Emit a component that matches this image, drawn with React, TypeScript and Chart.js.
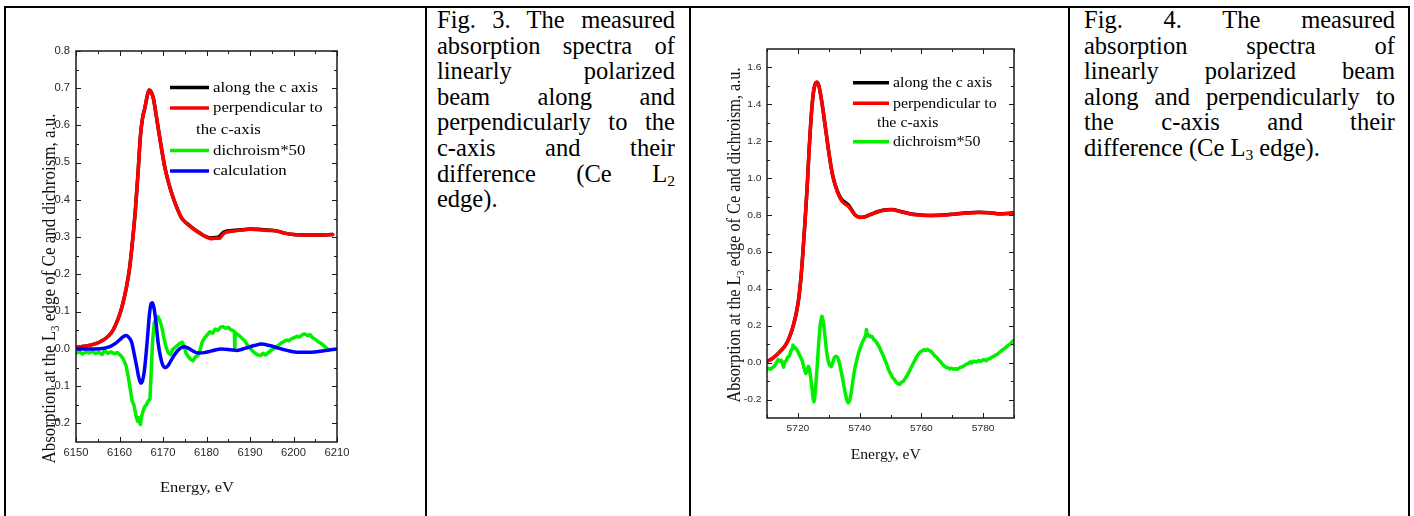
import React, { useEffect, useRef } from 'react';
import { Chart, registerables } from 'chart.js';

Chart.register(...registerables);

const SERIF = '"Liberation Serif", "Times New Roman", Times, serif';
const SANS = '"Liberation Sans", Arial, Helvetica, sans-serif';

// ---------------- Fig. 3 (Ce L2 edge) data ----------------
const E3_ABS = [6150, 6152, 6154, 6156, 6157.5, 6158.5, 6159.5, 6160.5, 6161.5, 6162.3, 6163, 6163.7, 6164.3, 6164.8, 6165.3, 6165.8, 6166.3, 6166.8, 6167.3, 6167.8, 6168.4, 6169, 6169.7, 6170.4, 6171.2, 6172, 6173, 6174.3, 6175.5, 6177, 6178.5, 6180, 6181, 6182, 6183, 6183.6, 6184.2, 6186, 6188, 6190, 6192, 6194, 6196, 6198, 6200, 6203, 6206, 6209];
const ALONG3 = [0.004, 0.007, 0.012, 0.022, 0.035, 0.05, 0.075, 0.11, 0.16, 0.215, 0.29, 0.38, 0.48, 0.57, 0.62, 0.645, 0.675, 0.695, 0.69, 0.672, 0.63, 0.585, 0.535, 0.489, 0.45, 0.418, 0.385, 0.351, 0.337, 0.323, 0.311, 0.301, 0.298, 0.299, 0.302, 0.31, 0.315, 0.318, 0.32, 0.322, 0.321, 0.319, 0.317, 0.311, 0.307, 0.306, 0.306, 0.307];
const PERP3 = [0.004, 0.007, 0.012, 0.022, 0.035, 0.05, 0.075, 0.11, 0.16, 0.215, 0.29, 0.38, 0.48, 0.57, 0.62, 0.645, 0.675, 0.695, 0.69, 0.672, 0.63, 0.585, 0.535, 0.489, 0.45, 0.418, 0.385, 0.351, 0.336, 0.322, 0.31, 0.3, 0.296, 0.297, 0.297, 0.305, 0.312, 0.316, 0.319, 0.321, 0.32, 0.318, 0.317, 0.311, 0.307, 0.306, 0.306, 0.307];

const E3_DICH = [6150, 6150.8, 6151.5, 6152.3, 6153, 6153.8, 6154.5, 6155.2, 6156, 6156.6, 6157.3, 6158, 6158.8, 6159.5, 6160.3, 6160.9, 6161.5, 6162, 6162.5, 6162.9, 6163.3, 6163.6, 6163.9, 6164.2, 6164.5, 6164.8, 6165.1, 6165.4, 6165.8, 6166.2, 6166.6, 6167, 6167.3, 6167.6, 6168, 6168.4, 6168.8, 6169.2, 6169.7, 6170.2, 6170.7, 6171.2, 6171.7, 6172.2, 6172.8, 6173.4, 6173.9, 6174.4, 6174.8, 6175.3, 6175.8, 6176.3, 6176.9, 6177.4, 6178, 6178.5, 6179, 6179.6, 6180.2, 6180.8, 6181.4, 6182, 6182.6, 6183.2, 6183.8, 6184.4, 6185, 6185.5, 6186, 6186.4, 6186.5, 6186.6, 6187, 6187.6, 6188.2, 6188.8, 6189.4, 6190, 6190.6, 6191.2, 6191.8, 6192.4, 6193, 6193.6, 6194.2, 6194.8, 6195.4, 6196, 6196.6, 6197.2, 6197.8, 6198.4, 6199, 6199.6, 6200.2, 6200.8, 6201.4, 6202, 6202.6, 6203.2, 6203.8, 6204.4, 6205, 6205.6, 6206.2, 6206.8, 6207.4, 6208];
const DICH3 = [-0.012, -0.007, -0.014, -0.008, -0.011, -0.006, -0.013, -0.009, -0.015, -0.004, -0.012, -0.008, -0.013, -0.01, -0.018, -0.028, -0.045, -0.074, -0.11, -0.14, -0.15, -0.168, -0.185, -0.195, -0.185, -0.203, -0.18, -0.168, -0.155, -0.15, -0.14, -0.135, -0.06, 0.02, 0.07, 0.08, 0.087, 0.078, 0.06, 0.03, 0.005, -0.01, -0.015, -0.002, 0.004, 0.01, 0.015, 0.018, 0.008, -0.012, -0.02, -0.028, -0.032, -0.022, -0.018, -0.004, 0.018, 0.03, 0.038, 0.046, 0.042, 0.053, 0.05, 0.058, 0.06, 0.055, 0.058, 0.052, 0.05, 0.046, 0.0, 0.044, 0.04, 0.035, 0.028, 0.022, 0.01, 0.002, -0.006, -0.012, -0.016, -0.018, -0.012, -0.016, -0.01, -0.004, 0.0, 0.006, 0.01, 0.016, 0.02, 0.024, 0.022, 0.028, 0.03, 0.034, 0.032, 0.038, 0.04, 0.036, 0.038, 0.03, 0.026, 0.02, 0.016, 0.01, 0.004, -0.002];

const E3_CALC = [6150, 6152, 6154.7, 6156.5, 6157.8, 6159, 6160, 6161, 6161.6, 6162.2, 6162.8, 6163.5, 6164, 6164.4, 6164.9, 6165.3, 6165.7, 6166.1, 6166.5, 6166.9, 6167.3, 6167.6, 6168, 6168.4, 6168.9, 6169.4, 6169.9, 6170.5, 6171.2, 6172, 6173, 6174, 6174.8, 6175.8, 6176.8, 6178, 6179.5, 6181, 6183.5, 6185.5, 6187, 6189, 6191, 6192.6, 6194.5, 6196.5, 6198.5, 6201, 6204, 6207, 6210];
const CALC3 = [0.0, 0.0, 0.0, 0.002, 0.006, 0.014, 0.024, 0.034, 0.036, 0.03, 0.018, -0.021, -0.05, -0.075, -0.092, -0.085, -0.06, -0.015, 0.04, 0.095, 0.122, 0.124, 0.105, 0.07, 0.015, -0.02, -0.042, -0.05, -0.044, -0.028, -0.01, 0.002, 0.006, 0.002, -0.005, -0.011, -0.01, -0.006, 0.0, -0.002, -0.004, 0.002, 0.009, 0.013, 0.009, 0.002, -0.004, -0.009, -0.009, -0.005, 0.0];

const X3_MAJOR = [6150, 6160, 6170, 6180, 6190, 6200, 6210];
const X3_MINOR = [6155, 6165, 6175, 6185, 6195, 6205];
const Y3_MAJOR = [-0.2, -0.1, 0.0, 0.1, 0.2, 0.3, 0.4, 0.5, 0.6, 0.7, 0.8];
const Y3_MINOR = [-0.15, -0.05, 0.05, 0.15, 0.25, 0.35, 0.45, 0.55, 0.65, 0.75];

// ---------------- Fig. 4 (Ce L3 edge) data ----------------
const E4_ABS = [5710, 5711.5, 5713, 5714.5, 5716, 5717.3, 5718.5, 5719.5, 5720.3, 5721, 5721.6, 5722.3, 5723, 5723.6, 5724.3, 5725, 5725.6, 5726.2, 5726.8, 5727.5, 5728.3, 5729.2, 5730.2, 5731.2, 5732.2, 5733.3, 5734.3, 5735.5, 5736.5, 5737.5, 5738.5, 5740, 5741.5, 5743.5, 5746, 5748.5, 5750.5, 5753, 5756, 5759, 5763, 5767, 5771, 5775, 5778.5, 5782, 5785.5, 5788, 5790];
const ALONG4 = [0.008, 0.02, 0.04, 0.065, 0.095, 0.14, 0.2, 0.27, 0.35, 0.46, 0.59, 0.76, 0.95, 1.14, 1.33, 1.46, 1.51, 1.52, 1.5, 1.44, 1.35, 1.24, 1.12, 1.02, 0.958, 0.91, 0.882, 0.866, 0.852, 0.826, 0.802, 0.788, 0.79, 0.803, 0.819, 0.829, 0.83, 0.821, 0.808, 0.801, 0.798, 0.8, 0.806, 0.812, 0.815, 0.813, 0.807, 0.809, 0.812];
const PERP4 = [0.008, 0.02, 0.04, 0.065, 0.095, 0.14, 0.2, 0.27, 0.35, 0.46, 0.59, 0.76, 0.95, 1.14, 1.33, 1.46, 1.51, 1.52, 1.5, 1.44, 1.35, 1.24, 1.12, 1.02, 0.955, 0.905, 0.875, 0.858, 0.845, 0.822, 0.8, 0.787, 0.789, 0.802, 0.818, 0.828, 0.829, 0.82, 0.807, 0.8, 0.797, 0.799, 0.805, 0.811, 0.814, 0.812, 0.806, 0.808, 0.811];

const E4_DICH = [5710, 5710.6, 5711.2, 5711.8, 5712.4, 5713, 5713.6, 5714.1, 5714.6, 5715.1, 5715.4, 5715.7, 5716.2, 5716.7, 5717.2, 5717.7, 5718.1, 5718.4, 5718.8, 5719.3, 5719.8, 5720.3, 5720.8, 5721.3, 5721.8, 5722.2, 5722.6, 5723, 5723.4, 5723.7, 5724.1, 5724.5, 5724.9, 5725.2, 5725.5, 5725.9, 5726.3, 5726.8, 5727.3, 5727.8, 5728.3, 5728.8, 5729.3, 5729.8, 5730.3, 5730.8, 5731.3, 5731.8, 5732.3, 5732.8, 5733.3, 5733.8, 5734.3, 5734.8, 5735.3, 5735.8, 5736.3, 5736.8, 5737.3, 5737.8, 5738.3, 5738.8, 5739.3, 5739.8, 5740.4, 5741, 5741.6, 5742, 5742.2, 5742.5, 5743, 5743.5, 5744, 5744.6, 5745.2, 5745.8, 5746.4, 5747, 5747.6, 5748.2, 5748.8, 5749.4, 5750, 5750.6, 5751.2, 5751.8, 5752.4, 5753, 5753.6, 5754.2, 5754.8, 5755.4, 5756, 5756.6, 5757.2, 5757.8, 5758.4, 5759, 5759.6, 5760.2, 5760.8, 5761.4, 5762, 5762.6, 5763.2, 5763.8, 5764.4, 5765, 5765.6, 5766.2, 5766.8, 5767.4, 5768, 5768.6, 5769.2, 5769.8, 5770.4, 5771, 5771.6, 5772.2, 5772.8, 5773.4, 5774, 5774.6, 5775.2, 5775.8, 5776.3, 5776.8, 5777.4, 5778, 5778.6, 5779.2, 5779.8, 5780.4, 5781, 5781.6, 5782.2, 5782.8, 5783.4, 5784, 5784.6, 5785.2, 5785.8, 5786.4, 5787, 5787.6, 5788.2, 5788.8, 5789.4, 5790];
const DICH4 = [-0.037, -0.03, -0.036, -0.026, -0.02, -0.002, 0.017, 0.008, 0.012, -0.01, -0.024, 0.004, 0.01, 0.03, 0.035, 0.06, 0.075, 0.095, 0.078, 0.08, 0.066, 0.05, 0.032, 0.015, -0.015, -0.04, -0.058, -0.04, -0.02, -0.035, -0.075, -0.13, -0.19, -0.212, -0.18, -0.1, -0.01, 0.12, 0.215, 0.252, 0.215, 0.14, 0.06, 0.01, -0.015, -0.022, 0.0, 0.028, 0.034, 0.03, 0.01, -0.03, -0.07, -0.115, -0.16, -0.2, -0.218, -0.205, -0.16, -0.1, -0.045, -0.005, 0.03, 0.06, 0.09, 0.115, 0.135, 0.15, 0.18, 0.145, 0.15, 0.14, 0.142, 0.125, 0.118, 0.1, 0.085, 0.06, 0.04, 0.015, -0.01, -0.04, -0.06, -0.078, -0.09, -0.105, -0.114, -0.118, -0.105, -0.1, -0.085, -0.07, -0.05, -0.03, -0.01, 0.01, 0.03, 0.045, 0.058, 0.063, 0.07, 0.066, 0.072, 0.065, 0.06, 0.048, 0.036, 0.028, 0.015, 0.005, -0.008, -0.018, -0.025, -0.028, -0.034, -0.03, -0.036, -0.032, -0.036, -0.03, -0.024, -0.022, -0.015, -0.008, -0.004, 0.004, -0.002, 0.008, 0.006, 0.004, 0.012, 0.006, 0.014, 0.016, 0.01, 0.02, 0.022, 0.03, 0.034, 0.04, 0.046, 0.054, 0.062, 0.07, 0.078, 0.086, 0.095, 0.1, 0.112, 0.122];

const X4_MAJOR = [5720, 5740, 5760, 5780];
const X4_MINOR = [5710, 5730, 5750, 5770, 5790];
const Y4_MAJOR = [-0.2, 0.0, 0.2, 0.4, 0.6, 0.8, 1.0, 1.2, 1.4, 1.6];
const Y4_MINOR = [-0.1, 0.1, 0.3, 0.5, 0.7, 0.9, 1.1, 1.3, 1.5];

// ---------------- captions ----------------
const CAPTION3 = ['Fig. 3. The measured', 'absorption spectra of', 'linearly polarized', 'beam along and', 'perpendicularly to the', 'c-axis and their', 'difference (Ce L|2', 'edge).'];
const CAPTION4 = ['Fig. 4. The measured', 'absorption spectra of', 'linearly polarized beam', 'along and perpendicularly to', 'the c-axis and their', 'difference (Ce L|3| edge).'];

const LABEL_ALONG = 'along the c axis';
const LABEL_PERP = 'perpendicular to\nthe c-axis';
const LABEL_DICH = 'dichroism*50';
const LABEL_CALC = 'calculation';
const X_TITLE = 'Energy, eV';

type Series = { label: string; xs: number[]; ys: number[]; color: string; order: number; smooth: boolean };

type Spec = {
  width: number; height: number;
  pad: { left: number; top: number; right: number; bottom: number };
  xMin: number; xMax: number; yMin: number; yMax: number;
  xMajor: number[]; xMinor: number[]; yMajor: number[]; yMinor: number[];
  tickFont: number; xLabelDy: number; yLabelDx: number;
  series: Series[];
  legend: { x0: number; x1: number; tx: number; contX: number; rows: number[]; font: number };
  yTitle: { x: number; y: number; size: number };
  xTitle: { x: number; y: number; size: number };
};

const SX = 1.12; // horizontal stretch of the source picture

function sText(ctx: CanvasRenderingContext2D, text: string, x: number, y: number, align: CanvasTextAlign) {
  ctx.save();
  ctx.translate(x, y);
  ctx.scale(SX, 1);
  ctx.textAlign = align;
  ctx.fillText(text, 0, 0);
  ctx.restore();
}

function drawYTitle(ctx: CanvasRenderingContext2D, cx: number, cy: number, size: number) {
  const main = `${size}px ${SERIF}`;
  const sub = `${Math.round(size * 0.62)}px ${SERIF}`;
  const parts: [string, string, number][] = [
    ['Absorption at the L', main, 0],
    ['3', sub, size * 0.32],
    [' edge of Ce and dichroism, a.u.', main, 0],
  ];
  ctx.save();
  ctx.translate(cx, cy);
  ctx.rotate(-Math.PI / 2);
  ctx.scale(1, SX);
  ctx.fillStyle = '#111';
  ctx.textBaseline = 'middle';
  ctx.textAlign = 'left';
  let total = 0;
  for (const [t, f] of parts) { ctx.font = f; total += ctx.measureText(t).width; }
  let x = -total / 2;
  for (const [t, f, dy] of parts) {
    ctx.font = f;
    ctx.fillText(t, x, dy);
    x += ctx.measureText(t).width;
  }
  ctx.restore();
}

function makeDecor(spec: Spec) {
  return {
    id: 'decor',
    afterDraw(chart: any) {
      const { ctx, chartArea: a } = chart;
      const xs = chart.scales.x;
      const ys = chart.scales.y;
      ctx.save();
      ctx.strokeStyle = '#1a1a1a';
      ctx.lineWidth = 1;
      ctx.beginPath();
      const tickX = (vals: number[], len: number) => {
        for (const v of vals) {
          const p = Math.round(xs.getPixelForValue(v)) + 0.5;
          ctx.moveTo(p, a.bottom); ctx.lineTo(p, a.bottom - len);
          ctx.moveTo(p, a.top); ctx.lineTo(p, a.top + len);
        }
      };
      const tickY = (vals: number[], len: number) => {
        for (const v of vals) {
          const p = Math.round(ys.getPixelForValue(v)) + 0.5;
          ctx.moveTo(a.left, p); ctx.lineTo(a.left + len, p);
          ctx.moveTo(a.right, p); ctx.lineTo(a.right - len, p);
        }
      };
      tickX(spec.xMajor, 5); tickX(spec.xMinor, 3);
      tickY(spec.yMajor, 5); tickY(spec.yMinor, 3);
      ctx.stroke();
      ctx.lineWidth = 1.5;
      ctx.strokeRect(a.left, a.top, a.right - a.left, a.bottom - a.top);

      // tick labels
      ctx.fillStyle = '#2a2a2a';
      ctx.font = `${spec.tickFont}px ${SANS}`;
      ctx.textBaseline = 'middle';
      for (const v of spec.xMajor) {
        sText(ctx, String(v), xs.getPixelForValue(v), a.bottom + spec.xLabelDy, 'center');
      }
      for (const v of spec.yMajor) {
        sText(ctx, v.toFixed(1), a.left - spec.yLabelDx, ys.getPixelForValue(v), 'right');
      }

      // legend
      const lg = spec.legend;
      ctx.font = `${lg.font}px ${SERIF}`;
      ctx.textBaseline = 'middle';
      let row = 0;
      for (const s of spec.series) {
        const lines = s.label.split('\n');
        lines.forEach((ln, i) => {
          const y = lg.rows[row];
          ctx.fillStyle = '#000';
          if (i === 0) {
            ctx.strokeStyle = s.color;
            ctx.lineWidth = 3.5;
            ctx.beginPath();
            ctx.moveTo(lg.x0, y); ctx.lineTo(lg.x1, y);
            ctx.stroke();
            sText(ctx, ln, lg.tx, y + 0.5, 'left');
          } else {
            sText(ctx, ln, lg.contX, y + 0.5, 'left');
          }
          row++;
        });
      }

      // axis titles
      ctx.fillStyle = '#111';
      ctx.font = `${spec.xTitle.size}px ${SERIF}`;
      ctx.textBaseline = 'middle';
      sText(ctx, X_TITLE, spec.xTitle.x, spec.xTitle.y, 'center');
      drawYTitle(ctx, spec.yTitle.x, spec.yTitle.y, spec.yTitle.size);
      ctx.restore();
    },
  };
}

function ChartPanel({ spec, left, top }: { spec: Spec; left: number; top: number }) {
  const ref = useRef<HTMLCanvasElement | null>(null);
  useEffect(() => {
    if (!ref.current) return;
    const chart = new Chart(ref.current, {
      type: 'line',
      data: {
        datasets: spec.series.map((s) => ({
          label: s.label,
          data: s.xs.map((x, i) => ({ x, y: s.ys[i] })),
          borderColor: s.color,
          backgroundColor: s.color,
          borderWidth: 3.5,
          pointRadius: 0,
          fill: false,
          order: s.order,
          tension: 0,
          cubicInterpolationMode: s.smooth ? 'monotone' : 'default',
          borderJoinStyle: 'round',
          borderCapStyle: 'round',
        })) as any,
      },
      options: {
        animation: false,
        responsive: false,
        devicePixelRatio: 1,
        layout: { padding: spec.pad },
        plugins: { legend: { display: false }, tooltip: { enabled: false }, title: { display: false } },
        scales: {
          x: { type: 'linear', display: false, min: spec.xMin, max: spec.xMax },
          y: { type: 'linear', display: false, min: spec.yMin, max: spec.yMax },
        },
      } as any,
      plugins: [makeDecor(spec)],
    });
    return () => chart.destroy();
  }, [spec]);
  return (
    <canvas
      ref={ref}
      width={spec.width}
      height={spec.height}
      style={{ position: 'absolute', left, top, width: spec.width, height: spec.height }}
    />
  );
}

const GREEN = '#00f000';

const SPEC3: Spec = {
  width: 418, height: 508,
  pad: { left: 70, top: 43, right: 87, bottom: 74 },
  xMin: 6150, xMax: 6210, yMin: -0.25, yMax: 0.8,
  xMajor: X3_MAJOR, xMinor: X3_MINOR, yMajor: Y3_MAJOR, yMinor: Y3_MINOR,
  tickFont: 10, xLabelDy: 11, yLabelDx: 6,
  series: [
    { label: LABEL_ALONG, xs: E3_ABS, ys: ALONG3, color: '#000000', order: 4, smooth: true },
    { label: LABEL_PERP, xs: E3_ABS, ys: PERP3, color: '#ff0000', order: 3, smooth: true },
    { label: LABEL_DICH, xs: E3_DICH, ys: DICH3, color: GREEN, order: 2, smooth: false },
    { label: LABEL_CALC, xs: E3_CALC, ys: CALC3, color: '#0000ff', order: 1, smooth: true },
  ],
  legend: { x0: 164, x1: 203, tx: 207, contX: 190, rows: [79.5, 100, 121.5, 142.5, 163], font: 15 },
  yTitle: { x: 44, y: 280.5, size: 17 },
  xTitle: { x: 191, y: 480, size: 14.8 },
};

const SPEC4: Spec = {
  width: 376, height: 508,
  pad: { left: 76, top: 41, right: 53, bottom: 98 },
  xMin: 5710, xMax: 5790, yMin: -0.3, yMax: 1.7,
  xMajor: X4_MAJOR, xMinor: X4_MINOR, yMajor: Y4_MAJOR, yMinor: Y4_MINOR,
  tickFont: 9.2, xLabelDy: 10, yLabelDx: 5.5,
  series: [
    { label: LABEL_ALONG, xs: E4_ABS, ys: ALONG4, color: '#000000', order: 3, smooth: true },
    { label: LABEL_PERP, xs: E4_ABS, ys: PERP4, color: '#ff0000', order: 2, smooth: true },
    { label: LABEL_DICH, xs: E4_DICH, ys: DICH4, color: GREEN, order: 1, smooth: false },
  ],
  legend: { x0: 162, x1: 198, tx: 202, contX: 186, rows: [74.7, 95.3, 114.7, 133.7], font: 14.2 },
  yTitle: { x: 44, y: 227, size: 16.3 },
  xTitle: { x: 194.7, y: 447.7, size: 14 },
};

function CaptionLine({ text, last }: { text: string; last: boolean }) {
  const parts = text.split('|');
  return (
    <div style={{ height: 25.6, lineHeight: '25.6px', textAlign: last ? 'left' : 'justify', textAlignLast: last ? 'left' : 'justify' } as any}>
      {parts.map((p, i) =>
        i % 2 === 1 ? (
          <span key={i} style={{ fontSize: 15.5, lineHeight: 0, verticalAlign: -4 }}>{p}</span>
        ) : (
          <span key={i}>{p}</span>
        )
      )}
    </div>
  );
}

function Caption({ lines, left, width }: { lines: string[]; left: number; width: number }) {
  return (
    <div style={{ position: 'absolute', left, top: 7, width, fontFamily: SERIF, fontSize: 24.5, color: '#000' }}>
      {lines.map((l, i) => (
        <CaptionLine key={i} text={l} last={i === lines.length - 1} />
      ))}
    </div>
  );
}

const V_LINES = [4, 425, 689, 1068, 1408];

export default function App() {
  return (
    <div style={{ position: 'absolute', left: 0, top: 0, width: 1414, height: 516, background: '#fff', overflow: 'hidden' }}>
      <div style={{ position: 'absolute', left: 4, top: 6, width: 1406, height: 2, background: '#000' }} />
      {V_LINES.map((x) => (
        <div key={x} style={{ position: 'absolute', left: x, top: 6, width: 2, height: 510, background: '#000' }} />
      ))}
      <ChartPanel spec={SPEC3} left={6} top={8} />
      <Caption lines={CAPTION3} left={437} width={238} />
      <ChartPanel spec={SPEC4} left={691} top={8} />
      <Caption lines={CAPTION4} left={1084} width={311} />
    </div>
  );
}
